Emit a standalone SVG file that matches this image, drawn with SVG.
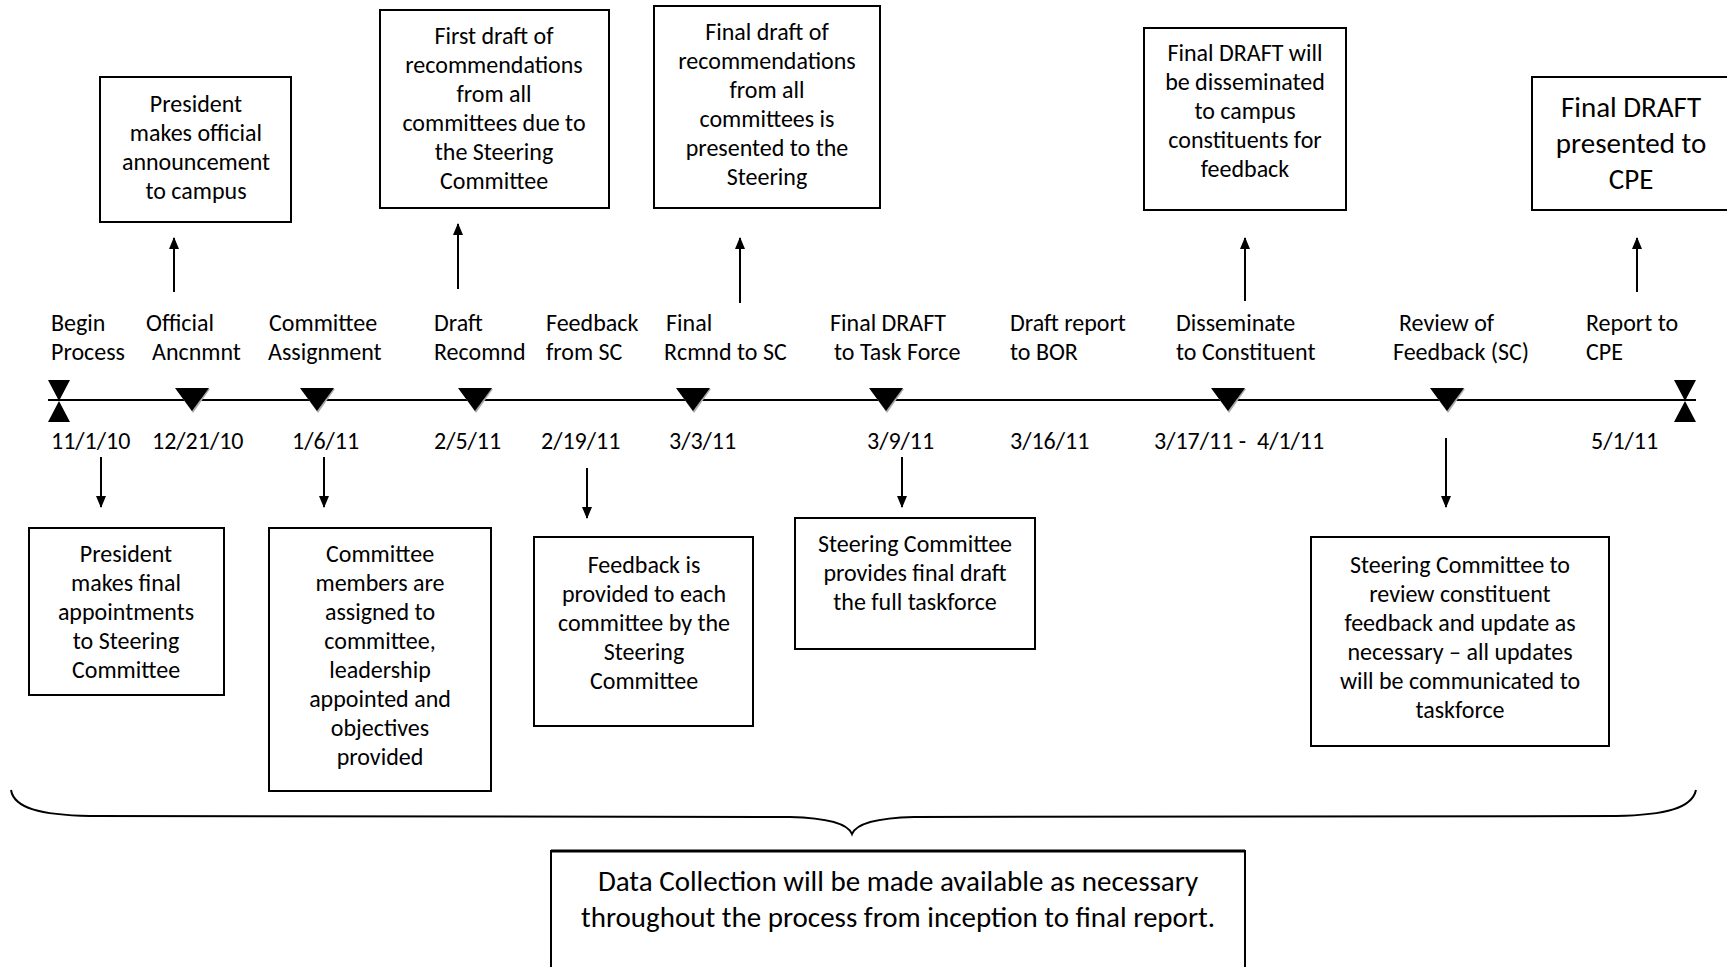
<svg xmlns="http://www.w3.org/2000/svg" width="1727" height="967" viewBox="0 0 1727 967">
<style>
text{font-family:Carlito,Lato,"Liberation Sans",sans-serif;font-size:24px;fill:#000}
.c{text-anchor:middle}
.big{font-size:29px}
.box{fill:#fff;stroke:#000;stroke-width:2}
.ln{stroke:#000;stroke-width:2;fill:none}
</style>
<defs>
<marker id="ah" viewBox="0 0 12 10" refX="11" refY="5" markerWidth="12" markerHeight="10" markerUnits="userSpaceOnUse" orient="auto">
<path d="M0,0 L12,5 L0,10 Z" fill="#000"/>
</marker>
<g id="tri"><path d="M-16,-11 L18,-11 L1,13 Z" fill="#aaa"/><path d="M-17,-12 L17,-12 L0,11 Z" fill="#000"/></g>
<g id="bow"><path d="M-11,-21 L11,-21 L0,0 Z M-11,21 L11,21 L0,0 Z" fill="#000"/></g>
</defs>

<g id="timeline">
<line class="ln" x1="48" y1="400" x2="1696" y2="400"/>
<use href="#bow" x="59" y="401"/>
<use href="#bow" x="1685" y="401"/>
<use href="#tri" x="192" y="400"/>
<use href="#tri" x="317" y="400"/>
<use href="#tri" x="475" y="400"/>
<use href="#tri" x="693" y="400"/>
<use href="#tri" x="886" y="400"/>
<use href="#tri" x="1228" y="400"/>
<use href="#tri" x="1447" y="400"/>
</g>

<g id="labels">
<text x="51" y="331">Begin</text><text x="51" y="360">Process</text>
<text x="146" y="331">Official</text><text x="152" y="360">Ancnmnt</text>
<text x="269" y="331">Committee</text><text x="268" y="360">Assignment</text>
<text x="434" y="331">Draft</text><text x="434" y="360">Recomnd</text>
<text x="546" y="331">Feedback</text><text x="546" y="360">from SC</text>
<text x="666" y="331">Final</text><text x="664" y="360">Rcmnd to SC</text>
<text x="830" y="331">Final DRAFT</text><text x="834" y="360">to Task Force</text>
<text x="1010" y="331">Draft report</text><text x="1010" y="360">to BOR</text>
<text x="1176" y="331">Disseminate</text><text x="1176" y="360">to Constituent</text>
<text x="1399" y="331">Review of</text><text x="1393" y="360">Feedback (SC)</text>
<text x="1586" y="331">Report to</text><text x="1586" y="360">CPE</text>
</g>

<g id="dates">
<text x="51" y="449">11/1/10</text>
<text x="152" y="449">12/21/10</text>
<text x="292" y="449">1/6/11</text>
<text x="434" y="449">2/5/11</text>
<text x="541" y="449">2/19/11</text>
<text x="669" y="449">3/3/11</text>
<text x="867" y="449">3/9/11</text>
<text x="1010" y="449">3/16/11</text>
<text x="1154" y="449" xml:space="preserve">3/17/11 -  4/1/11</text>
<text x="1591" y="449">5/1/11</text>
</g>

<g id="connectors">
<line class="ln" x1="174" y1="292" x2="174" y2="238" marker-end="url(#ah)"/>
<line class="ln" x1="458" y1="289" x2="458" y2="224" marker-end="url(#ah)"/>
<line class="ln" x1="740" y1="303" x2="740" y2="238" marker-end="url(#ah)"/>
<line class="ln" x1="1245" y1="301" x2="1245" y2="238" marker-end="url(#ah)"/>
<line class="ln" x1="1637" y1="292" x2="1637" y2="238" marker-end="url(#ah)"/>
<line class="ln" x1="101" y1="457" x2="101" y2="507" marker-end="url(#ah)"/>
<line class="ln" x1="324" y1="457" x2="324" y2="507" marker-end="url(#ah)"/>
<line class="ln" x1="587" y1="468" x2="587" y2="518" marker-end="url(#ah)"/>
<line class="ln" x1="902" y1="457" x2="902" y2="507" marker-end="url(#ah)"/>
<line class="ln" x1="1446" y1="438" x2="1446" y2="507" marker-end="url(#ah)"/>
</g>

<g id="box-official">
<rect class="box" x="100" y="77" width="191" height="145"/>
<text class="c" x="196" y="112">President</text>
<text class="c" x="196" y="141">makes official</text>
<text class="c" x="196" y="170">announcement</text>
<text class="c" x="196" y="199">to campus</text>
</g>

<g id="box-firstdraft">
<rect class="box" x="380" y="10" width="229" height="198"/>
<text class="c" x="494" y="44">First draft of</text>
<text class="c" x="494" y="73">recommendations</text>
<text class="c" x="494" y="102">from all</text>
<text class="c" x="494" y="131">committees due to</text>
<text class="c" x="494" y="160">the Steering</text>
<text class="c" x="494" y="189">Committee</text>
</g>

<g id="box-finaldraft">
<rect class="box" x="654" y="6" width="226" height="202"/>
<text class="c" x="767" y="40">Final draft of</text>
<text class="c" x="767" y="69">recommendations</text>
<text class="c" x="767" y="98">from all</text>
<text class="c" x="767" y="127">committees is</text>
<text class="c" x="767" y="156">presented to the</text>
<text class="c" x="767" y="185">Steering</text>
</g>

<g id="box-disseminate">
<rect class="box" x="1144" y="28" width="202" height="182"/>
<text class="c" x="1245" y="61">Final DRAFT will</text>
<text class="c" x="1245" y="90">be disseminated</text>
<text class="c" x="1245" y="119">to campus</text>
<text class="c" x="1245" y="148">constituents for</text>
<text class="c" x="1245" y="177">feedback</text>
</g>

<g id="box-cpe">
<rect class="box" x="1532" y="77" width="200" height="133"/>
<text class="c big" x="1631" y="117">Final DRAFT</text>
<text class="c big" x="1631" y="153">presented to</text>
<text class="c big" x="1631" y="189">CPE</text>
</g>

<g id="box-appointments">
<rect class="box" x="29" y="528" width="195" height="167"/>
<text class="c" x="126" y="562">President</text>
<text class="c" x="126" y="591">makes final</text>
<text class="c" x="126" y="620">appointments</text>
<text class="c" x="126" y="649">to Steering</text>
<text class="c" x="126" y="678">Committee</text>
</g>

<g id="box-members">
<rect class="box" x="269" y="528" width="222" height="263"/>
<text class="c" x="380" y="562">Committee</text>
<text class="c" x="380" y="591">members are</text>
<text class="c" x="380" y="620">assigned to</text>
<text class="c" x="380" y="649">committee,</text>
<text class="c" x="380" y="678">leadership</text>
<text class="c" x="380" y="707">appointed and</text>
<text class="c" x="380" y="736">objectives</text>
<text class="c" x="380" y="765">provided</text>
</g>

<g id="box-feedback">
<rect class="box" x="534" y="537" width="219" height="189"/>
<text class="c" x="644" y="573">Feedback is</text>
<text class="c" x="644" y="602">provided to each</text>
<text class="c" x="644" y="631">committee by the</text>
<text class="c" x="644" y="660">Steering</text>
<text class="c" x="644" y="689">Committee</text>
</g>

<g id="box-taskforce">
<rect class="box" x="795" y="518" width="240" height="131"/>
<text class="c" x="915" y="552">Steering Committee</text>
<text class="c" x="915" y="581">provides final draft</text>
<text class="c" x="915" y="610">the full taskforce</text>
</g>

<g id="box-review">
<rect class="box" x="1311" y="537" width="298" height="209"/>
<text class="c" x="1460" y="573">Steering Committee to</text>
<text class="c" x="1460" y="602">review constituent</text>
<text class="c" x="1460" y="631">feedback and update as</text>
<text class="c" x="1460" y="660">necessary – all updates</text>
<text class="c" x="1460" y="689">will be communicated to</text>
<text class="c" x="1460" y="718">taskforce</text>
</g>

<g id="brace">
<path class="ln" d="M11,790 C14,808 40,815 90,816 L790,817 C830,818 848,824 852,834 C856,824 874,818 914,817 L1616,816 C1666,815 1692,808 1696,790"/>
</g>

<g id="box-datacollection">
<rect class="box" x="551" y="851" width="694" height="130"/>
<line x1="551" y1="851" x2="1245" y2="851" stroke="#000" stroke-width="3"/>
<text class="c big" x="898" y="891">Data Collection will be made available as necessary</text>
<text class="c big" x="898" y="927">throughout the process from inception to final report.</text>
</g>
</svg>
